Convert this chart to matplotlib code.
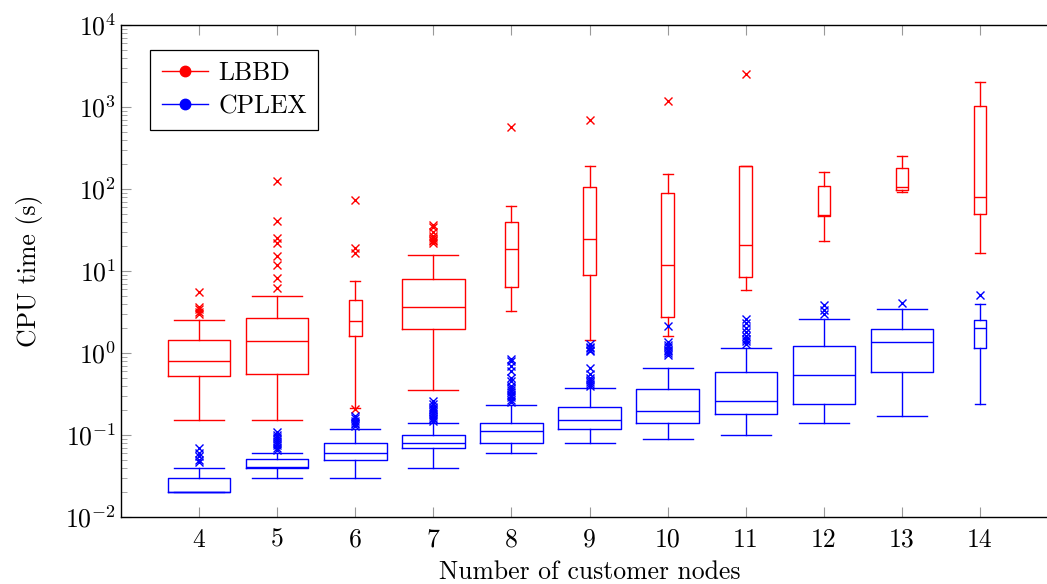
import matplotlib
matplotlib.use('Agg')
import matplotlib.pyplot as plt
from matplotlib.lines import Line2D

plt.rcParams['font.family'] = ['cmr10', 'DejaVu Serif']
plt.rcParams['mathtext.fontset'] = 'cm'
plt.rcParams['axes.formatter.use_mathtext'] = True
plt.rcParams['axes.unicode_minus'] = False

# number of customer nodes
nodes = [4, 5, 6, 7, 8, 9, 10, 11, 12, 13, 14]

# LBBD box statistics (CPU time in seconds)
lbbd_med = [0.81, 1.4, 2.45, 3.6, 18.7, 24.5, 11.7, 20.9, 48.6, 105, 81]
lbbd_q1 = [0.53, 0.56, 1.61, 1.98, 6.4, 9.0, 2.72, 8.5, 47, 98, 49]
lbbd_q3 = [1.45, 2.7, 4.4, 8.0, 40, 106, 90, 189, 109, 179, 1037]
lbbd_lo = [0.151, 0.151, 0.215, 0.354, 3.28, 1.43, 1.6, 5.9, 23, 91, 16.6]
lbbd_hi = [2.55, 5.0, 7.5, 15.5, 62.5, 189, 154, 189, 160, 253, 1995]
lbbd_fliers = [
    [5.6, 3.6, 3.4, 3.2, 3.0],
    [124, 41, 25, 22, 15.4, 12, 8.2, 6.2],
    [74, 19, 16.5, 0.205],
    [36, 34, 30, 27, 25, 24, 23, 22],
    [564],
    [700],
    [1195],
    [2525],
    [],
    [],
    [],
]

# CPLEX box statistics (CPU time in seconds)
cplex_med = [0.0203, 0.041, 0.061, 0.080, 0.111, 0.152, 0.196, 0.257, 0.533, 1.35, 2.02]
cplex_q1 = [0.0202, 0.040, 0.050, 0.070, 0.080, 0.12, 0.14, 0.18, 0.241, 0.586, 1.15]
cplex_q3 = [0.0301, 0.0504, 0.080, 0.100, 0.14, 0.22, 0.363, 0.586, 1.23, 1.98, 2.52]
cplex_lo = [0.0202, 0.030, 0.030, 0.040, 0.060, 0.080, 0.090, 0.1, 0.14, 0.17, 0.241]
cplex_hi = [0.040, 0.060, 0.119, 0.141, 0.23, 0.374, 0.662, 1.15, 2.6, 3.44, 3.96]
cplex_fliers = [
    [0.07, 0.06, 0.055, 0.05, 0.047],
    [0.11, 0.1, 0.095, 0.09, 0.085, 0.08, 0.075, 0.07, 0.066],
    [0.17, 0.16, 0.15, 0.14, 0.135, 0.13],
    [0.26, 0.24, 0.22, 0.21, 0.2, 0.19, 0.18, 0.17, 0.16, 0.155, 0.15],
    [0.85, 0.8, 0.7, 0.6, 0.5, 0.45, 0.4, 0.37, 0.35, 0.33, 0.31, 0.29, 0.27, 0.25],
    [1.3, 1.2, 1.15, 1.1, 1.05, 0.65, 0.55, 0.5, 0.47, 0.44, 0.42, 0.4],
    [2.15, 1.35, 1.25, 1.2, 1.1, 1.05, 1.0, 0.95],
    [2.6, 2.3, 2.0, 1.8, 1.6, 1.5, 1.4, 1.3],
    [3.8, 3.3, 3.0],
    [4.07],
    [5.1],
]

# box widths (wide / narrow boxes as drawn in the original)
W, N = 0.8, 0.16
lbbd_widths = [W, W, N, W, N, N, N, N, N, N, N]
cplex_widths = [W, W, W, W, W, W, W, W, W, W, N]


def make_stats(med, q1, q3, lo, hi, fliers):
    return [dict(med=m, q1=a, q3=b, whislo=l, whishi=h, fliers=f)
            for m, a, b, l, h, f in zip(med, q1, q3, lo, hi, fliers)]


fig = plt.figure(figsize=(10.47, 5.84), dpi=100)
ax = fig.add_axes([0.1156, 0.1147, 0.895, 0.8425])

for stats, widths, col in [
    (make_stats(lbbd_med, lbbd_q1, lbbd_q3, lbbd_lo, lbbd_hi, lbbd_fliers), lbbd_widths, 'red'),
    (make_stats(cplex_med, cplex_q1, cplex_q3, cplex_lo, cplex_hi, cplex_fliers), cplex_widths, 'blue'),
]:
    ax.bxp(stats, positions=nodes, widths=widths,
           capwidths=[w * 0.8 for w in widths],
           boxprops=dict(color=col, linewidth=1.0),
           medianprops=dict(color=col, linewidth=1.0),
           whiskerprops=dict(color=col, linewidth=1.0),
           capprops=dict(color=col, linewidth=1.0),
           flierprops=dict(marker='x', markeredgecolor=col, markersize=6,
                           markeredgewidth=1.0, linestyle='none'))

ax.set_yscale('log')
ax.set_ylim(1e-2, 1e4)
ax.set_xlim(3, 15)
ax.set_xticks(nodes)
ax.set_xticklabels([str(n) for n in nodes])

ax.tick_params(which='both', direction='in', top=True, right=True,
               color='0.6', labelsize=18.5, labelcolor='black')
ax.tick_params(which='major', length=7.5, width=0.8)
ax.tick_params(which='minor', length=4.5, width=0.6)
ax.tick_params(axis='x', which='minor', bottom=False, top=False)
ax.tick_params(axis='x', pad=8)
for s in ax.spines.values():
    s.set_linewidth(1.0)

ax.set_xlabel('Number of customer nodes', fontsize=18.5, labelpad=6)
ax.set_ylabel('CPU time (s)', fontsize=18.5, labelpad=16)

handles = [
    Line2D([0], [0], color='red', lw=1.0, marker='o', markersize=7.5),
    Line2D([0], [0], color='blue', lw=1.0, marker='o', markersize=7.5),
]
leg = ax.legend(handles, ['LBBD', 'CPLEX'], loc='upper left',
                bbox_to_anchor=(0.031, 0.949), borderaxespad=0,
                fancybox=False, edgecolor='black', framealpha=1,
                fontsize=18.5, handlelength=1.8, handletextpad=0.4,
                borderpad=0.45, labelspacing=0.35)
leg.get_frame().set_linewidth(0.9)

fig.savefig('out.png', dpi=100)
